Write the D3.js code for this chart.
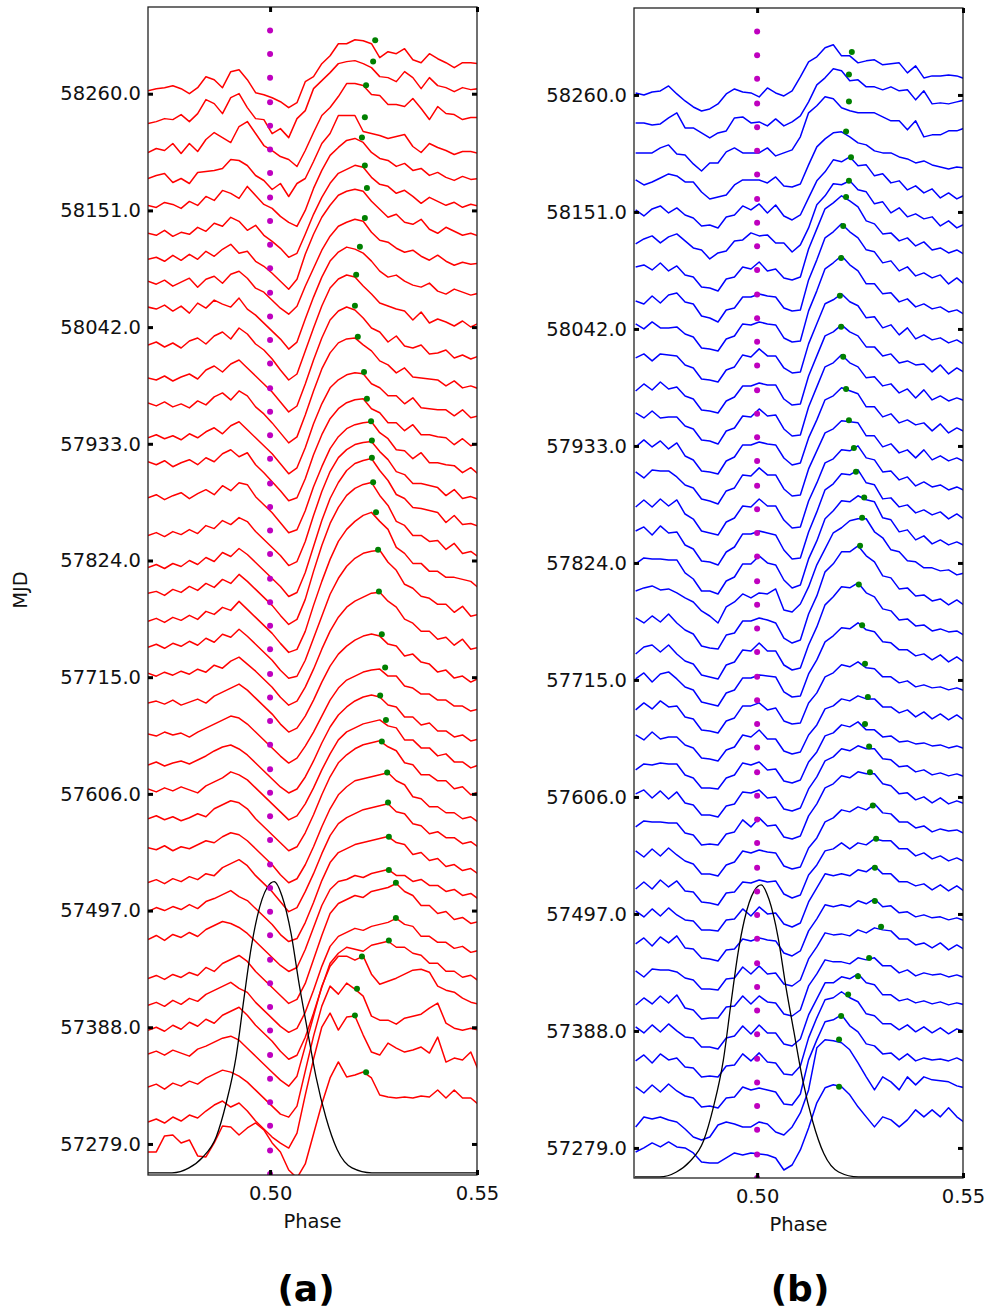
<!DOCTYPE html>
<html>
<head>
<meta charset="utf-8">
<script src="https://cdn.jsdelivr.net/npm/d3@7"></script>
<style>
  body { margin: 0; background: #fff; }
  text { font-family: "DejaVu Sans", sans-serif; }
</style>
</head>
<body>
<svg id="chart" width="990" height="1311"></svg>
<script>
// observation epochs (MJD), top trace first
var epochs = [58260, 58233, 58206, 58178, 58151, 58124, 58096, 58069, 58042, 58015,
  57987, 57960, 57933, 57906, 57878, 57851, 57824, 57797, 57769, 57742,
  57715, 57688, 57660, 57633, 57606, 57579, 57551, 57524, 57497, 57470,
  57442, 57415, 57388, 57361, 57333, 57306, 57279];

var mjdTicks = [57279, 57388, 57497, 57606, 57715, 57824, 57933, 58042, 58151, 58260];
var phaseTicks = [0.50, 0.55];

// phase bins of every profile
var phaseBins = [0.4705, 0.4725, 0.4745, 0.4765, 0.4785, 0.4805, 0.4825, 0.4845, 0.4865, 0.4885,
  0.4905, 0.4925, 0.4945, 0.4965, 0.4985, 0.5005, 0.5025, 0.5045, 0.5065, 0.5085,
  0.5105, 0.5125, 0.5145, 0.5165, 0.5185, 0.5205, 0.5225, 0.5245, 0.5265, 0.5285,
  0.5305, 0.5325, 0.5345, 0.5365, 0.5385, 0.5405, 0.5425, 0.5445, 0.5465, 0.5485, 0.5505];

// profile flux (arbitrary units) per epoch, panel (a)
var profilesA = [
  [3,5,6,8,5,0,6,17,14,6,22,24,14,1,-1,-4,-8,-14,-9,12,17,30,38,50,50,54,53,50,36,42,40,45,34,31,40,35,31,26,31,31,30],
  [-1,1,4,3,8,1,9,23,19,9,25,29,15,4,3,-11,-6,-15,4,12,34,42,50,59,61,62,59,55,46,45,41,51,45,34,45,37,35,31,35,33,34],
  [-1,3,1,8,-2,8,0,12,19,14,9,25,30,18,6,1,-5,-8,-15,1,19,36,44,55,68,68,66,57,56,47,47,45,53,43,32,45,38,37,32,34,34],
  [3,6,8,-1,3,-2,9,10,11,13,22,21,16,6,1,-8,-2,-15,-2,3,20,38,48,66,66,66,50,48,46,43,45,47,35,29,38,34,31,27,30,30,28],
  [5,3,8,6,2,9,5,14,10,20,17,12,24,15,6,2,-6,-12,-16,0,22,40,55,63,70,72,68,58,52,50,44,47,40,42,35,38,33,30,34,31,32],
  [6,4,9,3,7,5,12,8,16,13,22,18,9,14,4,-2,-9,-18,-14,5,25,42,56,66,70,74,72,62,55,53,46,49,43,36,42,38,34,37,32,35,33],
  [10,12,8,14,9,15,10,18,13,20,25,16,18,8,3,-4,-12,-20,-10,15,35,52,64,74,78,80,78,68,60,52,55,47,45,50,40,36,42,38,34,36,33],
  [17,14,18,12,16,20,11,19,22,15,24,27,20,10,6,-2,-10,-16,-8,12,30,48,62,72,76,79,77,66,58,56,50,46,48,42,38,43,37,33,36,34,35],
  [20,18,22,16,21,14,24,19,27,23,20,29,18,12,4,-4,-12,-22,-15,8,30,50,66,75,80,78,74,66,56,50,52,46,42,40,44,36,33,38,35,32,34],
  [11,14,9,13,8,15,18,12,20,24,17,28,22,12,6,-3,-14,-24,-18,5,28,50,68,77,81,79,70,62,53,50,47,45,36,44,33,37,34,30,35,29,33],
  [8,6,10,5,9,12,7,16,20,14,22,26,18,10,2,-6,-16,-26,-20,2,26,48,66,75,79,76,68,58,54,44,50,40,38,41,32,33,36,28,31,27,30],
  [12,9,13,8,11,7,14,10,18,22,15,24,19,8,1,-8,-18,-28,-22,0,24,46,62,72,76,77,70,64,54,50,42,47,38,37,36,35,29,34,27,29,26],
  [6,9,5,8,4,10,6,12,16,10,18,22,14,6,-2,-10,-20,-30,-24,-4,20,40,56,64,69,71,70,60,56,48,48,40,46,36,35,34,34,28,34,26,28],
  [11,8,12,6,10,13,8,15,11,19,23,16,20,8,0,-9,-18,-28,-25,-6,18,38,54,64,70,73,74,64,60,50,50,42,48,38,38,36,35,28,34,27,30],
  [5,8,3,7,10,4,9,13,8,17,12,20,18,6,-2,-10,-20,-30,-27,-8,16,36,54,66,74,78,80,81,70,64,53,52,44,50,40,40,38,37,30,35,28],
  [-4,-1,-5,0,-3,2,-2,6,3,11,7,14,10,0,-8,-16,-24,-34,-30,-10,16,40,60,74,82,87,89,90,80,72,60,57,48,48,46,44,36,42,33,35,32],
  [-7,-4,-8,-3,-6,0,-4,3,-1,8,4,12,6,-2,-10,-18,-26,-36,-32,-12,14,40,62,78,90,97,100,102,90,80,66,62,53,52,50,48,38,45,36,37,34],
  [-4,-2,-6,0,-3,3,-1,6,2,10,6,15,8,0,-8,-16,-26,-35,-30,-10,18,44,66,82,94,101,105,107,94,84,68,64,54,54,48,49,40,46,36,38,32],
  [-2,1,-3,2,-1,4,0,8,5,12,9,18,10,2,-6,-14,-24,-33,-30,-12,14,38,60,78,90,98,104,107,98,90,72,66,56,56,48,48,42,42,40,38,31],
  [1,4,0,5,2,7,3,10,6,14,11,19,12,4,-4,-12,-22,-30,-28,-12,10,32,54,70,82,90,95,97,98,86,78,64,60,52,50,44,44,36,42,32,34],
  [4,1,5,2,6,3,8,5,12,9,16,20,13,6,-2,-10,-20,-28,-24,-10,8,28,46,60,70,76,80,84,85,76,70,58,54,46,46,38,40,32,38,28,30],
  [3,5,2,6,1,4,7,3,10,14,18,22,16,8,0,-8,-18,-26,-22,-10,6,24,40,52,60,66,70,72,70,62,60,50,52,44,42,34,36,28,30,24,28],
  [2,0,4,1,3,-1,4,8,12,16,20,18,12,4,-4,-12,-20,-27,-22,-10,4,20,36,48,56,60,64,66,67,60,60,50,48,42,42,36,36,30,30,25,27],
  [0,3,-1,2,4,1,5,9,14,18,20,16,10,2,-6,-14,-22,-28,-24,-12,4,22,38,50,58,64,68,70,68,60,58,48,48,40,42,34,34,28,30,24,26],
  [5,2,6,3,7,4,1,8,12,16,22,19,14,6,-2,-10,-18,-26,-22,-10,6,24,40,54,62,66,70,72,74,68,66,54,54,46,46,38,40,32,32,26,29],
  [4,7,3,6,2,5,9,6,14,18,22,20,14,4,-4,-12,-20,-28,-24,-10,8,28,46,60,68,74,78,80,82,76,72,60,58,48,48,42,42,34,36,28,31],
  [5,3,7,2,6,4,8,12,10,16,20,18,12,4,-4,-12,-22,-30,-26,-12,6,26,44,58,66,72,74,76,78,80,72,68,56,54,46,46,40,40,34,36,30],
  [-1,2,-2,3,0,5,2,8,6,14,18,22,16,6,-2,-10,-20,-30,-26,-10,8,28,46,58,64,68,72,74,76,78,70,68,58,56,48,50,44,44,38,40,34],
  [-1,3,0,4,1,6,2,9,12,16,20,14,10,2,-6,-14,-24,-31,-28,-12,8,30,48,58,62,66,68,70,72,74,68,66,56,58,50,52,44,46,40,42,36],
  [0,4,-1,5,2,7,3,10,14,18,16,12,6,-2,-10,-18,-26,-32,-28,-10,12,34,50,58,60,64,62,66,68,70,64,64,58,60,54,54,48,50,44,46,40],
  [-9,-6,-10,-5,-8,-3,-6,2,-2,6,10,14,8,-2,-10,-18,-26,-34,-30,-14,10,34,56,66,70,74,72,78,80,82,86,78,74,64,64,56,58,50,52,46,48],
  [-7,-4,-8,-2,-6,0,-3,4,8,12,16,10,6,-4,-12,-20,-28,-34,-30,-14,8,32,52,62,66,70,68,72,74,76,80,74,72,62,62,56,56,50,52,46,48],
  [-3,0,-4,2,-2,5,1,8,4,12,16,20,12,2,-6,-14,-24,-32,-28,-10,14,40,64,74,80,78,76,82,84,86,80,80,74,72,64,64,56,56,50,52,46],
  [2,5,1,6,3,0,7,10,14,18,20,16,8,0,-8,-16,-24,-30,-20,10,40,70,90,100,100,96,100,82,72,75,78,82,86,87,84,70,66,64,58,54,52],
  [-1,2,-3,3,0,5,2,8,12,16,14,10,4,-4,-12,-20,-28,-31,-20,15,50,80,100,92,103,97,90,70,66,66,62,68,70,72,78,83,63,58,56,58,56],
  [-7,-4,-8,-2,-6,0,-3,4,10,14,8,12,4,-6,-14,-22,-28,-33,-18,20,56,88,102,85,98,99,80,63,60,72,67,63,65,68,62,78,53,57,55,63,43],
  [-8,-8,8,9,1,4,-12,-13,1,18,17,9,16,21,14,1,-8,-26,-34,-20,10,40,66,82,67,69,72,66,49,47,46,47,46,48,47,54,46,54,46,46,39]
];

// profile flux per epoch, panel (b)
var profilesB = [
  [2,0,3,4,9,1,-6,-12,-16,-14,-9,1,6,3,2,-2,7,2,-1,4,18,33,38,47,50,39,39,32,34,35,30,31,32,22,29,17,19,19,20,19,16],
  [1,1,-1,0,6,11,-4,-4,-9,-14,-9,-7,6,7,1,2,-2,5,-2,2,8,22,39,46,55,53,43,44,37,37,34,37,33,34,24,33,20,21,20,22,24],
  [0,0,0,5,8,-1,-2,-11,-18,-10,-10,1,5,0,0,0,5,-3,0,3,16,40,47,56,54,45,42,40,40,40,36,32,32,23,32,16,18,18,22,22,25],
  [3,-2,1,5,9,7,1,1,-9,-16,-14,-12,-2,3,3,3,0,6,-3,-4,-1,18,36,44,50,51,46,40,38,32,30,30,26,24,20,22,18,16,14,16,15],
  [2,-4,3,6,-1,4,-3,-6,-14,-13,-16,-5,-3,6,2,8,-1,7,-4,-8,-3,14,31,40,52,50,55,46,47,36,38,29,31,22,26,19,23,14,19,13,17],
  [-3,2,5,-2,4,7,0,-7,-9,-18,-12,-10,0,1,8,5,6,-2,-2,-11,-4,13,36,45,57,56,60,51,49,37,39,28,33,24,27,22,24,15,20,13,17],
  [4,6,1,8,0,5,-4,-6,-16,-17,-20,-8,-6,4,2,9,0,2,-7,-9,-6,22,42,62,68,75,70,64,50,47,37,38,30,33,25,29,21,23,18,21,16],
  [-1,-4,4,-3,5,7,-2,-4,-16,-18,-22,-10,-8,3,3,6,4,3,-8,-11,-10,20,40,62,68,76,68,62,50,48,37,39,29,33,24,27,22,25,16,22,15],
  [5,0,7,1,1,2,-5,-8,-19,-20,-22,-10,-7,5,4,7,5,4,-9,-13,-12,18,38,60,66,73,64,58,45,45,35,36,27,30,22,25,20,22,17,19,14],
  [0,4,-3,4,3,2,-7,-10,-21,-22,-24,-12,-9,3,1,9,2,2,-10,-15,-14,14,34,54,58,64,56,52,40,41,30,33,23,30,19,23,18,20,15,18,13],
  [-3,4,-2,6,-1,1,-8,-11,-22,-23,-25,-13,-9,2,2,5,3,3,-11,-17,-16,12,32,52,56,63,56,52,41,41,32,34,25,27,23,24,16,23,14,20,15],
  [4,-1,6,-1,0,0,-9,-12,-23,-24,-27,-14,-11,1,0,8,1,2,-12,-19,-18,10,30,50,54,62,54,50,39,40,31,33,24,28,19,27,17,21,16,19,16],
  [-1,6,-1,5,-3,3,-10,-14,-25,-26,-28,-15,-11,1,1,4,2,1,-12,-19,-17,8,26,46,50,58,55,52,39,39,29,32,23,26,21,23,15,22,13,18,14],
  [3,-3,5,4,4,-2,-10,-13,-24,-26,-29,-16,-13,0,-1,7,0,0,-14,-21,-20,6,24,42,46,54,53,52,39,39,28,31,22,25,17,25,15,19,14,17,13],
  [-2,5,-2,6,-1,5,-9,-14,-26,-28,-30,-17,-13,-1,-2,6,-1,-1,-15,-23,-22,4,22,42,46,55,54,59,47,45,33,34,25,28,19,23,18,20,15,18,14],
  [3,7,-1,8,1,2,-11,-15,-27,-28,-31,-18,-13,0,0,3,1,-1,-16,-25,-24,2,22,44,50,60,59,64,51,49,35,36,27,29,21,24,19,22,15,20,14],
  [-1,5,4,4,3,3,-10,-16,-28,-28,-31,-18,-14,-1,-1,7,0,-2,-17,-25,-22,4,22,44,52,62,61,67,63,61,45,43,31,33,23,27,19,23,18,21,17],
  [1,4,6,2,3,-1,-6,-10,-19,-24,-31,-15,-10,-2,-6,-1,-2,3,-18,-20,-12,5,27,43,59,64,71,73,73,60,54,42,40,31,30,24,24,21,22,17,19],
  [4,-1,6,0,8,-1,-8,-12,-24,-26,-27,-13,-11,1,1,4,2,-1,-16,-21,-18,8,26,50,58,70,70,76,66,60,46,44,33,34,26,27,21,23,17,22,16],
  [-3,4,6,-1,6,-3,-10,-13,-24,-26,-28,-14,-11,1,0,8,0,0,-14,-19,-17,6,24,46,54,64,63,68,58,54,42,40,31,32,25,26,20,22,19,20,15],
  [1,7,-2,6,8,1,-7,-10,-22,-24,-26,-13,-10,2,2,5,4,3,-12,-17,-16,6,20,38,44,52,51,57,50,48,38,37,30,30,24,26,20,25,18,23,17],
  [-1,6,0,8,2,3,-8,-10,-21,-22,-24,-12,-9,3,3,6,-1,1,-12,-15,-14,6,16,32,36,44,42,47,41,40,32,32,26,28,22,24,21,22,19,21,18],
  [4,-1,7,0,2,2,-6,-9,-19,-20,-22,-11,-8,4,2,9,0,0,-12,-15,-13,4,14,30,33,40,38,43,40,40,32,32,26,29,22,27,20,25,19,24,18],
  [-2,4,3,5,4,4,-7,-10,-20,-20,-21,-10,-7,5,3,6,-2,-1,-13,-15,-12,6,16,32,35,43,41,46,38,38,31,32,26,27,24,25,22,23,20,22,19],
  [3,7,-1,6,-2,5,-6,-8,-18,-18,-20,-9,-7,5,4,7,-1,0,-12,-14,-11,8,20,36,40,48,46,51,48,48,38,37,30,31,25,27,22,24,21,23,20],
  [-1,5,4,4,3,3,-7,-9,-19,-18,-19,-8,-6,6,-1,8,0,1,-11,-13,-10,10,22,38,42,50,48,54,52,52,42,40,32,33,26,29,23,28,22,25,22],
  [5,-1,7,0,8,1,-5,-8,-18,-18,-20,-9,-6,5,3,6,4,3,-10,-13,-11,8,18,34,38,46,44,49,46,52,43,42,34,34,28,30,24,27,25,26,22],
  [-4,3,-4,5,-2,4,-6,-7,-17,-18,-20,-8,-7,3,2,5,3,4,-9,-13,-10,10,20,34,36,42,36,42,40,46,44,44,36,36,29,32,26,29,24,27,23],
  [3,-3,5,-2,6,-1,-6,-7,-16,-16,-17,-6,-5,5,-2,7,0,1,-10,-13,-9,12,26,40,38,40,38,44,42,48,40,40,32,32,28,30,24,29,23,28,22],
  [-1,5,-3,6,0,7,-5,-6,-15,-16,-18,-7,-6,4,2,5,3,2,-10,-13,-8,12,24,38,36,38,36,42,39,44,36,37,30,31,26,28,25,26,23,25,22],
  [2,-4,4,3,3,1,-5,-7,-16,-16,-17,-6,-5,6,-1,7,-1,0,-11,-13,-7,14,26,40,38,39,37,43,40,45,43,42,34,34,28,30,25,30,23,28,23],
  [-3,4,-2,6,-1,7,-6,-8,-17,-16,-16,-5,-4,6,-2,6,0,-1,-12,-14,-8,16,28,42,40,40,38,44,42,44,36,36,29,32,26,29,27,28,25,27,24],
  [4,-2,6,-1,7,0,-6,-7,-16,-16,-18,-7,-5,5,-3,6,-2,-2,-13,-15,-8,16,32,48,48,54,52,57,48,46,36,36,30,32,28,30,27,29,26,28,26],
  [-1,5,-3,6,0,2,-7,-8,-17,-16,-17,-6,-5,6,-1,7,-2,-3,-14,-15,-6,22,42,60,62,68,62,58,46,44,36,36,30,35,28,33,27,32,26,31,28],
  [3,-3,5,-2,6,-1,-6,-8,-17,-16,-18,-8,-7,3,0,2,0,-2,-14,-15,-4,30,50,68,70,75,64,58,46,44,36,37,30,36,29,32,30,31,29,32,28],
  [-8,2,0,2,-1,-3,-10,-18,-21,-18,-6,-3,-5,-8,-8,-3,-5,-13,-16,-8,6,29,71,79,78,76,69,56,42,29,42,37,29,42,34,42,39,38,37,33,31],
  [-4,0,5,1,6,1,0,-5,-14,-15,-15,-10,-5,-7,-5,-6,-7,-10,-22,-17,-2,20,45,60,63,61,53,41,31,21,31,28,21,28,38,31,38,31,40,31,25]
];

// fitted peak positions (phase, MJD), top first
var peakPhaseA = [0.5254, 0.5249, 0.5232, 0.5229, 0.5222, 0.5229, 0.5234, 0.5229, 0.5217, 0.5208,
  0.5205, 0.5212, 0.5227, 0.5234, 0.5244, 0.5246, 0.5246, 0.5249, 0.5256, 0.5261,
  0.5263, 0.5270, 0.5278, 0.5266, 0.5280, 0.5270, 0.5283, 0.5285, 0.5287, 0.5287,
  0.5304, 0.5304, 0.5287, 0.5222, 0.5210, 0.5205, 0.5232];
var peakMjdA = [58310, 58290, 58268, 58238, 58219, 58193, 58172, 58144, 58117, 58091,
  58062, 58033, 58000, 57975, 57954, 57936, 57920, 57897, 57869, 57834,
  57795, 57755, 57724, 57698, 57675, 57655, 57626, 57598, 57566, 57535,
  57523, 57490, 57469, 57454, 57424, 57399, 57346];
var peakPhaseB = [0.5230, 0.5223, 0.5223, 0.5216, 0.5228, 0.5223, 0.5216, 0.5209, 0.5204, 0.5201,
  0.5204, 0.5209, 0.5216, 0.5223, 0.5235, 0.5240, 0.5260, 0.5255, 0.5250, 0.5247,
  0.5255, 0.5262, 0.5269, 0.5262, 0.5272, 0.5274, 0.5281, 0.5289, 0.5286, 0.5286,
  0.5301, 0.5272, 0.5245, 0.5221, 0.5204, 0.5199, 0.5199];
var peakMjdB = [58300, 58279, 58254, 58226, 58202, 58180, 58165, 58138, 58108, 58073,
  58044, 58016, 57986, 57957, 57931, 57909, 57885, 57866, 57840, 57804,
  57766, 57730, 57699, 57674, 57653, 57629, 57598, 57567, 57540, 57509,
  57485, 57456, 57439, 57422, 57402, 57380, 57336];

// reference markers at phase 0.5
var refMjd = [57251, 57273, 57296, 57318, 57340, 57362, 57385, 57407, 57429, 57451,
  57474, 57496, 57518, 57540, 57563, 57585, 57607, 57629, 57652, 57674,
  57696, 57718, 57741, 57763, 57785, 57807, 57830, 57852, 57874, 57896,
  57919, 57941, 57963, 57985, 58008, 58030, 58052, 58074, 58097, 58119,
  58141, 58163, 58186, 58208, 58230, 58252, 58275, 58297, 58319];

// template pulse (normalised)
var templatePhase = [0.4703, 0.4763, 0.4804, 0.4836, 0.4870, 0.4894, 0.4918, 0.4937, 0.4954, 0.4969,
  0.4993, 0.5010, 0.5029, 0.5051, 0.5070, 0.5089, 0.5111, 0.5135, 0.5162, 0.5198, 0.5246, 0.5505];
var templateVal = [0, 0, 0.017, 0.052, 0.124, 0.24, 0.40, 0.60, 0.77, 0.88,
  0.98, 1.0, 0.95, 0.82, 0.65, 0.50, 0.33, 0.19, 0.08, 0.017, 0, 0];

var fluxUnit = 0.934;      // days per flux unit
var templateBase = 57252, templateHeight = 272;

var svg = d3.select("#chart");

function drawPanel(p) {
  var x = d3.scaleLinear().domain([p.xMin, 0.55]).range([p.left, p.right]);
  var y = d3.scaleLinear().domain([p.yMin, p.yMax]).range([p.bottom, p.top]);

  svg.append("clipPath").attr("id", "clip" + p.name)
    .append("rect")
    .attr("x", p.left).attr("y", p.top)
    .attr("width", p.right - p.left).attr("height", p.bottom - p.top);

  var plot = svg.append("g").attr("clip-path", "url(#clip" + p.name + ")");

  p.profiles.forEach(function(prof, k) {
    var line = d3.line()
      .x(function(d, i) { return x(phaseBins[i]); })
      .y(function(d) { return y(epochs[k] + d * fluxUnit); });
    plot.append("path")
      .attr("d", line(prof))
      .attr("fill", "none")
      .attr("stroke", p.color)
      .attr("stroke-width", 1.5)
      .attr("stroke-linejoin", "round");
  });

  var tline = d3.line()
    .x(function(d, i) { return x(templatePhase[i]); })
    .y(function(d) { return y(templateBase + d * templateHeight); })
    .curve(d3.curveMonotoneX);
  plot.append("path")
    .attr("d", tline(templateVal))
    .attr("fill", "none")
    .attr("stroke", "#000")
    .attr("stroke-width", 1.3);

  plot.selectAll(".ref").data(refMjd).enter().append("circle")
    .attr("cx", x(0.5)).attr("cy", function(d) { return y(d); })
    .attr("r", 3).attr("fill", "#bf00bf");

  plot.selectAll(".peak").data(p.peakMjd).enter().append("circle")
    .attr("cx", function(d, i) { return x(p.peakPhase[i]); })
    .attr("cy", function(d) { return y(d); })
    .attr("r", 3).attr("fill", "#008000");

  // frame
  svg.append("rect")
    .attr("x", p.left).attr("y", p.top)
    .attr("width", p.right - p.left).attr("height", p.bottom - p.top)
    .attr("fill", "none").attr("stroke", "#222").attr("stroke-width", 1.3);

  function style(g) {
    g.select(".domain").remove();
    g.selectAll(".tick line").attr("stroke", "#000").attr("stroke-width", 3);
    g.selectAll(".tick text").attr("font-size", "19.5px").attr("fill", "#111")
      .attr("font-family", "DejaVu Sans, sans-serif");
  }

  svg.append("g").attr("transform", "translate(" + p.left + ",0)")
    .call(d3.axisLeft(y).tickValues(mjdTicks).tickSize(-5).tickPadding(7)
      .tickFormat(d3.format(".1f")))
    .call(style);
  svg.append("g").attr("transform", "translate(" + p.right + ",0)")
    .call(d3.axisRight(y).tickValues(mjdTicks).tickSize(-5).tickFormat(""))
    .call(style);
  svg.append("g").attr("transform", "translate(0," + p.bottom + ")")
    .call(d3.axisBottom(x).tickValues(phaseTicks).tickSize(-5).tickPadding(11)
      .tickFormat(d3.format(".2f")))
    .call(style);
  svg.append("g").attr("transform", "translate(0," + p.top + ")")
    .call(d3.axisTop(x).tickValues(phaseTicks).tickSize(-5).tickFormat(""))
    .call(style);

  svg.append("text")
    .attr("x", (p.left + p.right) / 2).attr("y", p.bottom + 53)
    .attr("text-anchor", "middle").attr("font-size", "19.5px").attr("fill", "#111")
    .text("Phase");

  svg.append("text")
    .attr("x", p.labelX).attr("y", 1301)
    .attr("text-anchor", "middle")
    .attr("font-family", "Liberation Sans, Arial, sans-serif")
    .attr("font-weight", "bold").attr("font-size", "36px")
    .text(p.label);
}

drawPanel({ name: "a", left: 148, right: 477, top: 7, bottom: 1175, xMin: 0.4705,
  yMin: 57250, yMax: 58341, color: "#ff0000", profiles: profilesA,
  peakPhase: peakPhaseA, peakMjd: peakMjdA, label: "(a)", labelX: 306 });
drawPanel({ name: "b", left: 634, right: 963, top: 8, bottom: 1178, xMin: 0.4701,
  yMin: 57251, yMax: 58341, color: "#0000ff", profiles: profilesB,
  peakPhase: peakPhaseB, peakMjd: peakMjdB, label: "(b)", labelX: 800 });

svg.append("text")
  .attr("transform", "translate(27,590) rotate(-90)")
  .attr("text-anchor", "middle").attr("font-size", "19.5px").attr("fill", "#111")
  .text("MJD");
</script>
</body>
</html>
